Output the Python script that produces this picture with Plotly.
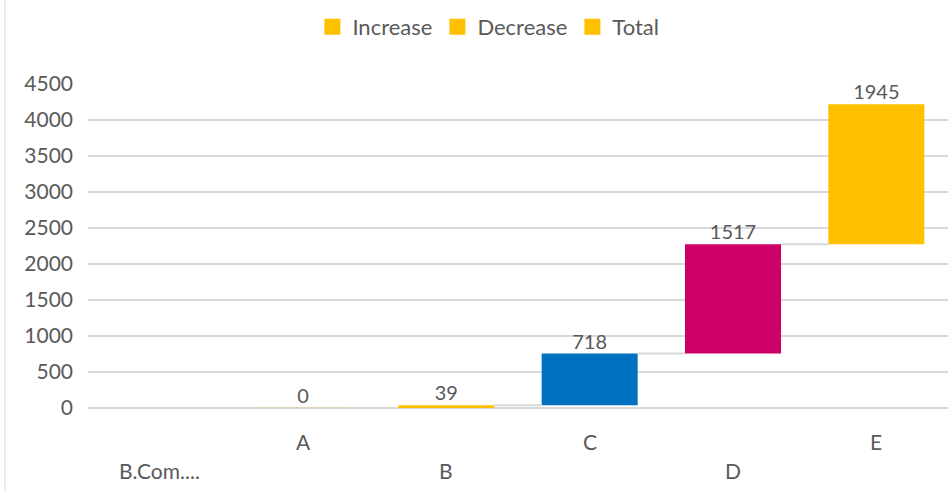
import plotly.graph_objects as go

categories = ["B.Com....", "A", "B", "C", "D", "E"]
values = [None, 0, 39, 718, 1517, 1945]
bar_colors = ["#FFC000", "#FFC000", "#FFC000", "#0070C0", "#CC0066", "#FFC000"]
legend_names = ["Increase", "Decrease", "Total"]
y_ticks = [0, 500, 1000, 1500, 2000, 2500, 3000, 3500, 4000, 4500]

FONT = "Lato"
GREY = "#595959"
BAR_W = 0.67

xs = list(range(len(categories)))
bases, tops = [], []
cum = 0
for v in values:
    bases.append(cum)
    if v is not None:
        cum += v
    tops.append(cum)

fig = go.Figure()

# connectors
for i in range(1, len(categories) - 1):
    if values[i] is None:
        continue
    fig.add_trace(go.Scatter(
        x=[xs[i] + BAR_W / 2, xs[i + 1] - BAR_W / 2], y=[tops[i], tops[i]],
        mode="lines", line=dict(color="#D9D9D9", width=2),
        showlegend=False, hoverinfo="skip"))

bx = [x for x, v in zip(xs, values) if v is not None]
by = [v for v in values if v is not None]
bb = [b for b, v in zip(bases, values) if v is not None]
bc = [c for c, v in zip(bar_colors, values) if v is not None]
bc = ["rgba(255,192,0,0.3)" if v == 0 else c for c, v in zip(bc, by)]

fig.add_trace(go.Bar(x=bx, y=[6 if v == 0 else v for v in by], base=bb,
                     width=BAR_W, marker=dict(color=bc, line=dict(width=0)),
                     showlegend=False, hoverinfo="skip"))

fig.add_trace(go.Scatter(
    x=bx, y=[t for t, v in zip(tops, values) if v is not None],
    mode="text", text=[str(v) for v in by], textposition="top center",
    textfont=dict(family=FONT, size=20, color=GREY),
    showlegend=False, hoverinfo="skip"))

for name in legend_names:
    fig.add_trace(go.Scatter(x=[None], y=[None], name=name, mode="markers",
                             marker=dict(symbol="square", size=16, color="#FFC000")))

for i, cat in enumerate(categories):
    fig.add_annotation(x=xs[i], y=0, yref="y", xref="x", text=cat,
                       showarrow=False, yanchor="middle",
                       yshift=-33 if i % 2 == 1 else -62,
                       font=dict(family=FONT, size=21, color=GREY))

fig.add_shape(type="line", xref="paper", yref="paper",
              x0=-0.0965, x1=-0.0965, y0=-0.26, y1=1.26,
              line=dict(color="#D9D9D9", width=1))

fig.update_layout(
    width=952, height=491,
    margin=dict(l=88, r=4, t=84, b=83, autoexpand=False),
    paper_bgcolor="white", plot_bgcolor="white",
    font=dict(family=FONT, size=20, color=GREY),
    barmode="overlay",
    showlegend=True,
    legend=dict(orientation="h", xref="container", yref="container",
                x=0.513, xanchor="center", y=0.945, yanchor="middle",
                font=dict(family=FONT, size=22, color=GREY),
                tracegroupgap=0),
    xaxis=dict(range=[-0.5, 5.5], showticklabels=False, showgrid=False,
               zeroline=False, showline=False, fixedrange=True),
    yaxis=dict(range=[0, 4500], tickvals=y_ticks, showgrid=True,
               gridcolor="#D9D9D9", gridwidth=1.5, zeroline=True,
               zerolinecolor="#D9D9D9", zerolinewidth=2,
               tickfont=dict(family=FONT, size=21, color=GREY),
               ticklabelstandoff=14,
               ticks="", ticklen=0, showline=False),
)

fig.write_html("out.html", config={"displayModeBar": False},
               post_script="document.body.style.margin='0';")
